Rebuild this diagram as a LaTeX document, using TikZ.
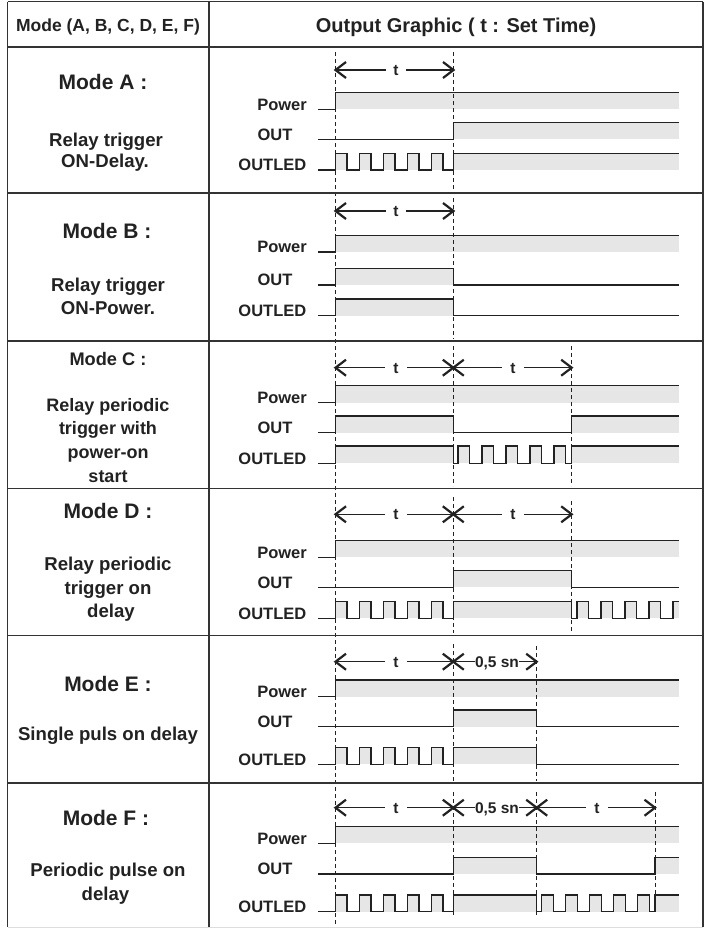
\documentclass[tikz,border=0pt]{standalone}
\usepackage{fontspec}
\setmainfont{Liberation Sans}
\definecolor{ink}{HTML}{222222}
\definecolor{shade}{HTML}{E6E6E6}
\definecolor{rulec}{HTML}{333333}
\definecolor{lightrule}{HTML}{DDDDDD}
\newcommand\fsz[1]{\fontsize{#1}{#1}\selectfont}
% pulse train path fragment: start, count, width, hi, lo
\newcommand\pulses[5]{\foreach \k in {1,...,#2}{ -- ({#1+24*(\k-1)},#5) -- ({#1+24*(\k-1)},#4) -- ({#1+24*(\k-1)+#3},#4) -- ({#1+24*(\k-1)+#3},#5) }}
\newcommand\pfill[5]{\foreach \k in {1,...,#2}{\fill[shd] ({#1+24*(\k-1)},#4) rectangle ({#1+24*(\k-1)+#3},#5);}}
% dimension segment: x0, x1, y, label, label x, half gap, name
\newcommand\dimseg[7]{%
  \node[tl] (#7) at (#5,{#3+5.5}) {#4};
  \coordinate (#7-l) at (#1,#3);
  \coordinate (#7-r) at (#2,#3);
  \coordinate (#7-a) at ({#5-#6},#3);
  \coordinate (#7-b) at ({#5+#6},#3);
  \draw[dimline] (#7-l) -- (#7-a);
  \draw[dimline] (#7-b) -- (#7-r);
  \draw[chev] ([shift={(10.5,-8)}]#7-l) -- (#7-l) -- ([shift={(10.5,8)}]#7-l);
  \draw[chev] ([shift={(-10.5,-8)}]#7-r) -- (#7-r) -- ([shift={(-10.5,8)}]#7-r);}
% signal labels: name prefix, power lo, out lo, outled lo
\newcommand\siglabels[4]{%
  \node[lbl, anchor=base east] (#1-pw) at (307,{#2+0.8}) {Power};
  \node[lbl, anchor=base] (#1-out) at (275,{#3+0.8}) {OUT};
  \node[lbl, anchor=base east] (#1-led) at (306.5,{#4+0.8}) {OUTLED};}
\newcommand\powersig[2]{%
  \fill[shd] (335.5,#1) rectangle (679,#2);
  \draw[sig] (318,#2) -- (335.5,#2) -- (335.5,#1) -- (679,#1);}

\begin{document}
\begin{tikzpicture}[x=1pt,y=-1pt,
  sig/.style={line width=1.4pt, draw=ink, line join=miter},
  shd/.style={fill=shade},
  vdash/.style={draw=ink, line width=0.7pt, dash pattern=on 4pt off 3pt},
  gridline/.style={draw=rulec, line width=1.8pt},
  dimline/.style={draw=ink, line width=1.2pt},
  chev/.style={draw=ink, line width=2.2pt, line join=miter},
  ttl/.style={font=\bfseries\fsz{21}, text=ink, anchor=base, inner sep=0pt},
  dsc/.style={font=\bfseries\fsz{18.6}, text=ink, anchor=base, inner sep=0pt},
  lbl/.style={font=\bfseries\fsz{16.5}, text=ink, inner sep=0pt},
  tl/.style={font=\bfseries\fsz{15.5}, text=ink, anchor=base, inner sep=0pt},
]
\useasboundingbox (0,0) rectangle (709,929);
\fill[white] (0,0) rectangle (709,929);

% ---------- shading ----------
% Mode A
\powersig{92.7}{109.3}
\fill[shd] (453.5,122.7) rectangle (679,139.3);
\pfill{335.5}{5}{11.6}{153.3}{170}
\fill[shd] (453.5,153.3) rectangle (679,170);
% Mode B
\powersig{235.5}{252}
\fill[shd] (335.5,268.5) rectangle (453.5,285);
\fill[shd] (335.5,299) rectangle (453.5,315.5);
% Mode C
\powersig{385.7}{402.7}
\fill[shd] (335.5,416) rectangle (453.3,432.7);
\fill[shd] (571.7,416) rectangle (679,432.7);
\fill[shd] (335.5,446) rectangle (453.3,463.3);
\pfill{458}{5}{11.7}{446}{463.3}
\fill[shd] (571.7,446) rectangle (679,463.3);
% Mode D
\powersig{540.7}{557.3}
\fill[shd] (453.3,570.7) rectangle (571.7,587.3);
\pfill{335.5}{5}{11.6}{601.7}{618.3}
\fill[shd] (453.3,601.7) rectangle (571.7,618.3);
\pfill{577}{4}{11.6}{601.7}{618.3}
\fill[shd] (673,601.7) rectangle (679,618.3);
% Mode E
\powersig{680}{696.7}
\fill[shd] (453.3,710) rectangle (536.7,726.7);
\pfill{335.5}{5}{11.6}{747.7}{764.3}
\fill[shd] (453.3,747.7) rectangle (536.7,764.3);
% Mode F
\powersig{826.7}{843.3}
\fill[shd] (453.3,857.3) rectangle (536.7,874);
\fill[shd] (655,857.3) rectangle (679,874);
\pfill{335.5}{5}{11.6}{895}{911.7}
\fill[shd] (453.3,895) rectangle (536.7,911.7);
\pfill{541.7}{5}{11.5}{895}{911.7}
\fill[shd] (655,895) rectangle (679,911.7);

% ---------- dashed time marks ----------
\draw[vdash] (335.5,52) -- (335.5,924);
\draw[vdash] (453.5,52) -- (453.5,191);
\draw[vdash] (453.5,198) -- (453.5,339);
\draw[vdash] (453.3,346) -- (453.3,486);
\draw[vdash] (571.7,346) -- (571.7,486);
\draw[vdash] (453.3,497) -- (453.3,633);
\draw[vdash] (571.7,501) -- (571.7,633);
\draw[vdash] (453.3,644) -- (453.3,781);
\draw[vdash] (536.7,646) -- (536.7,781);
\draw[vdash] (453.3,792) -- (453.3,916);
\draw[vdash] (536.7,792) -- (536.7,916);
\draw[vdash] (655,792) -- (655,910);

% ---------- table ----------
\draw[gridline] (7.5,1.5) -- (703,1.5);
\draw[gridline] (7.5,1.5) -- (7.5,927);
\draw[gridline] (703,1.5) -- (703,927);
\draw[gridline] (209,1.5) -- (209,927);
\foreach \yy in {47.3,193,341,488.5,635.5,783} {\draw[gridline] (7.5,\yy) -- (703,\yy);}
\draw[lightrule, line width=1pt] (7.5,927) -- (703,927);

% header
\node[font=\bfseries\fsz{17.5}, text=ink, anchor=base, inner sep=0pt] (hmode) at (108,31.5) {Mode (A, B, C, D, E, F)};
\node[font=\bfseries\fsz{20}, text=ink, anchor=base, inner sep=0pt] (hout) at (456,32) {Output Graphic ( t : Set Time)};

% ---------- left column ----------
\node[ttl] (ma) at (103,89) {Mode A :};
\node[dsc] (ma1) at (106,146) {Relay trigger};
\node[dsc] (ma2) at (105,167) {ON-Delay.};

\node[ttl] (mb) at (107,238.3) {Mode B :};
\node[dsc] (mb1) at (108,291) {Relay trigger};
\node[dsc] (mb2) at (108,314.3) {ON-Power.};

\node[ttl, font=\bfseries\fsz{18.2}] (mc) at (108,365) {Mode C :};
\node[dsc, font=\bfseries\fsz{18}] (mc1) at (108,411) {Relay periodic};
\node[dsc, font=\bfseries\fsz{18}] (mc2) at (108,434) {trigger with};
\node[dsc, font=\bfseries\fsz{18}] (mc3) at (108,458.3) {power-on};
\node[dsc, font=\bfseries\fsz{18}] (mc4) at (108,482) {start};

\node[ttl] (md) at (108,518.5) {Mode D :};
\node[dsc] (md1) at (108,570.5) {Relay periodic};
\node[dsc] (md2) at (108,594) {trigger on};
\node[dsc] (md3) at (111,617.5) {delay};

\node[ttl] (me) at (108,691) {Mode E :};
\node[dsc] (me1) at (108,740) {Single puls on delay};

\node[ttl] (mf) at (106,825) {Mode F :};
\node[dsc] (mf1) at (108,876.7) {Periodic pulse on};
\node[dsc] (mf2) at (105.5,900) {delay};

% ---------- Mode A ----------
\dimseg{335.5}{453.5}{70}{t}{396}{10}{aA}
\siglabels{A}{109.3}{139.3}{170}
\draw[sig] (318,139.3) -- (453.5,139.3) -- (453.5,122.7) -- (679,122.7);
\draw[sig] (318,170) \pulses{335.5}{5}{11.6}{153.3}{170} -- (453.5,170) -- (453.5,153.3) -- (679,153.3);

% ---------- Mode B ----------
\dimseg{335.5}{453.5}{211}{t}{396}{10}{aB}
\siglabels{B}{252}{285}{315.5}
\draw[sig] (318,285) -- (335.5,285) -- (335.5,268.5) -- (453.5,268.5) -- (453.5,285) -- (679,285);
\draw[sig] (318,315.5) -- (335.5,315.5) -- (335.5,299) -- (453.5,299) -- (453.5,315.5) -- (679,315.5);

% ---------- Mode C ----------
\dimseg{335.5}{453.3}{367.7}{t}{396}{11}{aC1}
\dimseg{453.3}{571.7}{367.7}{t}{513}{11}{aC2}
\siglabels{C}{402.7}{432.7}{463.3}
\draw[sig] (318,432.7) -- (335.5,432.7) -- (335.5,416) -- (453.3,416) -- (453.3,432.7) -- (571.7,432.7) -- (571.7,416) -- (679,416);
\draw[sig] (318,463.3) -- (335.5,463.3) -- (335.5,446) -- (453.3,446) -- (453.3,463.3) \pulses{458}{5}{11.7}{446}{463.3} -- (571.7,463.3) -- (571.7,446) -- (679,446);

% ---------- Mode D ----------
\dimseg{335.5}{453.3}{514.3}{t}{396}{11}{aD1}
\dimseg{453.3}{571.7}{514.3}{t}{513}{11}{aD2}
\siglabels{D}{557.3}{587.3}{618.3}
\draw[sig] (318,587.3) -- (453.3,587.3) -- (453.3,570.7) -- (571.7,570.7) -- (571.7,587.3) -- (679,587.3);
\draw[sig] (318,618.3) \pulses{335.5}{5}{11.6}{601.7}{618.3} -- (453.3,618.3) -- (453.3,601.7) -- (571.7,601.7) -- (571.7,618.3) \pulses{577}{4}{11.6}{601.7}{618.3} -- (673,618.3) -- (673,601.7) -- (679,601.7);

% ---------- Mode E ----------
\dimseg{335.5}{453.3}{661.7}{t}{396}{11}{aE1}
\dimseg{453.3}{536.7}{661.7}{0,5 sn}{497}{22}{aE2}
\siglabels{E}{696.7}{726.7}{764.3}
\draw[sig] (318,726.7) -- (453.3,726.7) -- (453.3,710) -- (536.7,710) -- (536.7,726.7) -- (679,726.7);
\draw[sig] (318,764.3) \pulses{335.5}{5}{11.6}{747.7}{764.3} -- (453.3,764.3) -- (453.3,747.7) -- (536.7,747.7) -- (536.7,764.3) -- (679,764.3);

% ---------- Mode F ----------
\dimseg{335.5}{453.3}{807.7}{t}{396}{11}{aF1}
\dimseg{453.3}{536.7}{807.7}{0,5 sn}{497}{22}{aF2}
\dimseg{536.7}{655}{807.7}{t}{597}{11}{aF3}
\siglabels{F}{843.3}{874}{911.7}
\draw[sig] (318,874) -- (453.3,874) -- (453.3,857.3) -- (536.7,857.3) -- (536.7,874) -- (655,874) -- (655,857.3) -- (679,857.3);
\draw[sig] (318,911.7) \pulses{335.5}{5}{11.6}{895}{911.7} -- (453.3,911.7) -- (453.3,895) -- (536.7,895) -- (536.7,911.7) \pulses{541.7}{5}{11.5}{895}{911.7} -- (655,911.7) -- (655,895) -- (679,895);
\end{tikzpicture}
\end{document}
